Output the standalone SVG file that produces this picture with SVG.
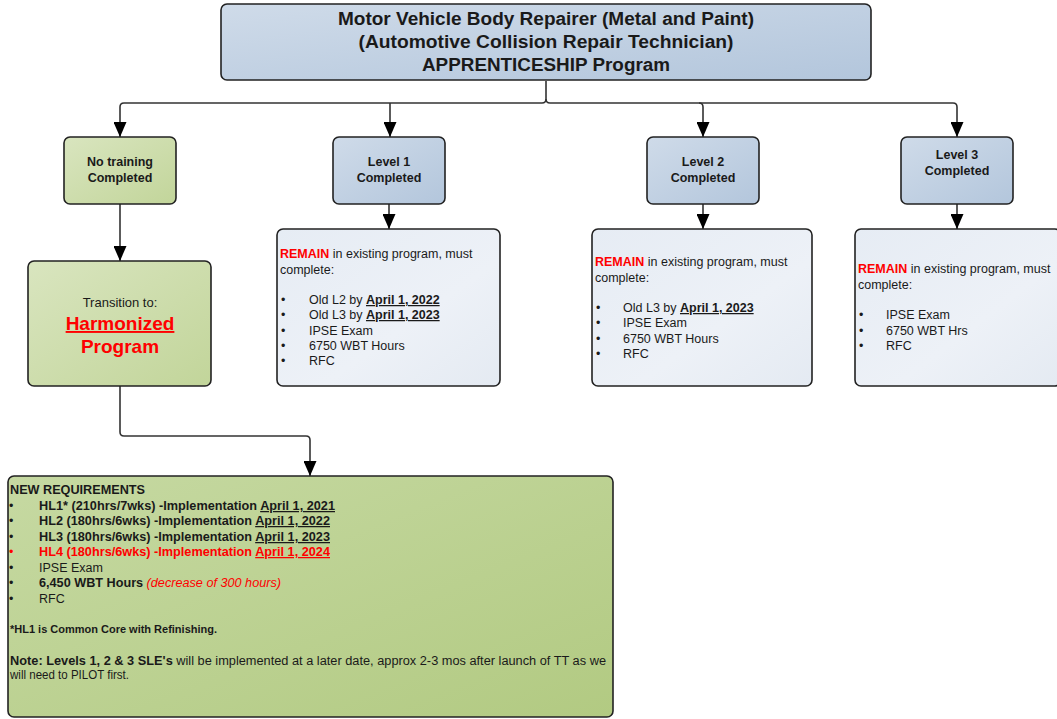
<svg xmlns="http://www.w3.org/2000/svg" width="1057" height="719" viewBox="0 0 1057 719">
<style>
.box{stroke:#222;stroke-width:1.6}
.t{font-family:"Liberation Sans",Arial,sans-serif;fill:#1a1a1a}
.b{font-weight:bold}
.red{fill:#ff0000}
.u{text-decoration:underline}
.conn{fill:none;stroke:#333;stroke-width:1.6}
</style>
<defs>
<linearGradient id="gBlue" x1="0" y1="0" x2="1" y2="1"><stop offset="0" stop-color="#cfdbe9"/><stop offset="1" stop-color="#b3c6dc"/></linearGradient>
<linearGradient id="gGreen" x1="0" y1="0" x2="1" y2="1"><stop offset="0" stop-color="#d9e5bf"/><stop offset="1" stop-color="#c2d59a"/></linearGradient>
<linearGradient id="gLight" x1="0" y1="0" x2="1" y2="1"><stop offset="0" stop-color="#e6ecf4"/><stop offset="0.6" stop-color="#edf1f7"/><stop offset="1" stop-color="#e4eaf2"/></linearGradient>
<linearGradient id="gNew" x1="0" y1="0" x2="1" y2="1"><stop offset="0" stop-color="#c6d9a2"/><stop offset="1" stop-color="#b2ca82"/></linearGradient>
<marker id="arr" markerUnits="userSpaceOnUse" markerWidth="15" markerHeight="13" refX="15" refY="6.5" orient="auto" viewBox="0 0 15 13"><path d="M0,0 L15,6.5 L0,13 z" fill="#000"/></marker>
</defs>

<g id="connectors">
<path class="conn" d="M546 81 V99 Q546 103 550 103 H953 Q957 103 957 107 V137" marker-end="url(#arr)"/>
<path class="conn" d="M546 99 Q546 103 542 103 H124 Q120 103 120 107 V137" marker-end="url(#arr)"/>
<path class="conn" d="M390 103 V137" marker-end="url(#arr)"/>
<path class="conn" d="M699 103 Q703 103 703 107 V137" marker-end="url(#arr)"/>
<path class="conn" d="M120 204 V261" marker-end="url(#arr)"/>
<path class="conn" d="M389 204 V229" marker-end="url(#arr)"/>
<path class="conn" d="M703 204 V229" marker-end="url(#arr)"/>
<path class="conn" d="M957 204 V229" marker-end="url(#arr)"/>
<path class="conn" d="M120 386 V432 Q120 436 124 436 H306 Q310 436 310 440 V476" marker-end="url(#arr)"/>
</g>

<g id="title">
<rect class="box" x="221" y="4" width="650" height="76" rx="6" fill="url(#gBlue)"/>
<text class="t b" x="546" y="25" font-size="18" text-anchor="middle" textLength="416" lengthAdjust="spacingAndGlyphs">Motor Vehicle Body Repairer (Metal and Paint)</text>
<text class="t b" x="546" y="48" font-size="18" text-anchor="middle" textLength="375" lengthAdjust="spacingAndGlyphs">(Automotive Collision Repair Technician)</text>
<text class="t b" x="546" y="71" font-size="18" text-anchor="middle" textLength="248" lengthAdjust="spacingAndGlyphs">APPRENTICESHIP Program</text>
</g>

<g id="no-training">
<rect class="box" x="64" y="137" width="112" height="67" rx="6" fill="url(#gGreen)"/>
<text class="t b" x="120" y="166" font-size="12.5" text-anchor="middle">No training</text>
<text class="t b" x="120" y="182" font-size="12.5" text-anchor="middle">Completed</text>
</g>

<g id="level1">
<rect class="box" x="333" y="137" width="112" height="67" rx="6" fill="url(#gBlue)"/>
<text class="t b" x="389" y="166" font-size="12.5" text-anchor="middle">Level 1</text>
<text class="t b" x="389" y="182" font-size="12.5" text-anchor="middle">Completed</text>
</g>

<g id="level2">
<rect class="box" x="647" y="137" width="112" height="67" rx="6" fill="url(#gBlue)"/>
<text class="t b" x="703" y="166" font-size="12.5" text-anchor="middle">Level 2</text>
<text class="t b" x="703" y="182" font-size="12.5" text-anchor="middle">Completed</text>
</g>

<g id="level3">
<rect class="box" x="901" y="137" width="112" height="67" rx="6" fill="url(#gBlue)"/>
<text class="t b" x="957" y="159" font-size="12.5" text-anchor="middle">Level 3</text>
<text class="t b" x="957" y="175" font-size="12.5" text-anchor="middle">Completed</text>
</g>

<g id="transition">
<rect class="box" x="28" y="261" width="183" height="125" rx="6" fill="url(#gGreen)"/>
<text class="t" x="120" y="307" font-size="13" text-anchor="middle">Transition to:</text>
<text class="t b red u" x="120" y="330" font-size="19" text-anchor="middle">Harmonized</text>
<text class="t b red" x="120" y="353" font-size="19" text-anchor="middle">Program</text>
</g>

<g id="remain1" font-size="12.5">
<rect class="box" x="277" y="229" width="223" height="157" rx="6" fill="url(#gLight)"/>
<text class="t" x="280" y="258"><tspan class="b red">REMAIN</tspan> in existing program, must</text>
<text class="t" x="280" y="274">complete:</text>
<text class="t" x="281" y="304">•</text><text class="t" x="309" y="304">Old L2 by <tspan class="b u">April 1, 2022</tspan></text>
<text class="t" x="281" y="319">•</text><text class="t" x="309" y="319">Old L3 by <tspan class="b u">April 1, 2023</tspan></text>
<text class="t" x="281" y="335">•</text><text class="t" x="309" y="335">IPSE Exam</text>
<text class="t" x="281" y="350">•</text><text class="t" x="309" y="350">6750 WBT Hours</text>
<text class="t" x="281" y="365">•</text><text class="t" x="309" y="365">RFC</text>
</g>

<g id="remain2" font-size="12.5">
<rect class="box" x="592" y="229" width="220" height="157" rx="6" fill="url(#gLight)"/>
<text class="t" x="595" y="266"><tspan class="b red">REMAIN</tspan> in existing program, must</text>
<text class="t" x="595" y="282">complete:</text>
<text class="t" x="596" y="312">•</text><text class="t" x="623" y="312">Old L3 by <tspan class="b u">April 1, 2023</tspan></text>
<text class="t" x="596" y="327">•</text><text class="t" x="623" y="327">IPSE Exam</text>
<text class="t" x="596" y="343">•</text><text class="t" x="623" y="343">6750 WBT Hours</text>
<text class="t" x="596" y="358">•</text><text class="t" x="623" y="358">RFC</text>
</g>

<g id="remain3" font-size="12.5">
<rect class="box" x="855" y="229" width="206" height="157" rx="6" fill="url(#gLight)"/>
<text class="t" x="858" y="273"><tspan class="b red">REMAIN</tspan> in existing program, must</text>
<text class="t" x="858" y="289">complete:</text>
<text class="t" x="859" y="319">•</text><text class="t" x="886" y="319">IPSE Exam</text>
<text class="t" x="859" y="335">•</text><text class="t" x="886" y="335">6750 WBT Hrs</text>
<text class="t" x="859" y="350">•</text><text class="t" x="886" y="350">RFC</text>
</g>

<g id="new-requirements" font-size="12.5">
<rect class="box" x="8" y="476" width="605" height="241" rx="6" fill="url(#gNew)"/>
<text class="t b" x="10" y="494" textLength="135" lengthAdjust="spacingAndGlyphs">NEW REQUIREMENTS</text>
<text class="t" x="9" y="510">•</text><text class="t b" x="39" y="510" textLength="296" lengthAdjust="spacingAndGlyphs">HL1* (210hrs/7wks) -Implementation <tspan class="u">April 1, 2021</tspan></text>
<text class="t" x="9" y="525">•</text><text class="t b" x="39" y="525" textLength="291" lengthAdjust="spacingAndGlyphs">HL2 (180hrs/6wks) -Implementation <tspan class="u">April 1, 2022</tspan></text>
<text class="t" x="9" y="541">•</text><text class="t b" x="39" y="541" textLength="291" lengthAdjust="spacingAndGlyphs">HL3 (180hrs/6wks) -Implementation <tspan class="u">April 1, 2023</tspan></text>
<text class="t red" x="9" y="556">•</text><text class="t b red" x="39" y="556" textLength="291" lengthAdjust="spacingAndGlyphs">HL4 (180hrs/6wks) -Implementation <tspan class="u">April 1, 2024</tspan></text>
<text class="t" x="9" y="572">•</text><text class="t" x="39" y="572" fill="#333">IPSE Exam</text>
<text class="t" x="9" y="587">•</text><text class="t" x="39" y="587" textLength="242" lengthAdjust="spacingAndGlyphs"><tspan class="b">6,450 WBT Hours </tspan><tspan class="red" font-style="italic">(decrease of 300 hours)</tspan></text>
<text class="t" x="9" y="603">•</text><text class="t" x="39" y="603">RFC</text>
<text class="t b" x="10" y="633" font-size="10.5" textLength="207" lengthAdjust="spacingAndGlyphs">*HL1 is Common Core with Refinishing.</text>
<text class="t" x="10" y="665" font-size="12.5" textLength="596" lengthAdjust="spacingAndGlyphs"><tspan class="b">Note:  Levels 1, 2 &amp; 3 SLE's</tspan> will be implemented at a later date, approx 2-3 mos after launch of TT as we</text>
<text class="t" x="10" y="679" font-size="12.5" textLength="119" lengthAdjust="spacingAndGlyphs">will need to PILOT first.</text>
</g>
</svg>
